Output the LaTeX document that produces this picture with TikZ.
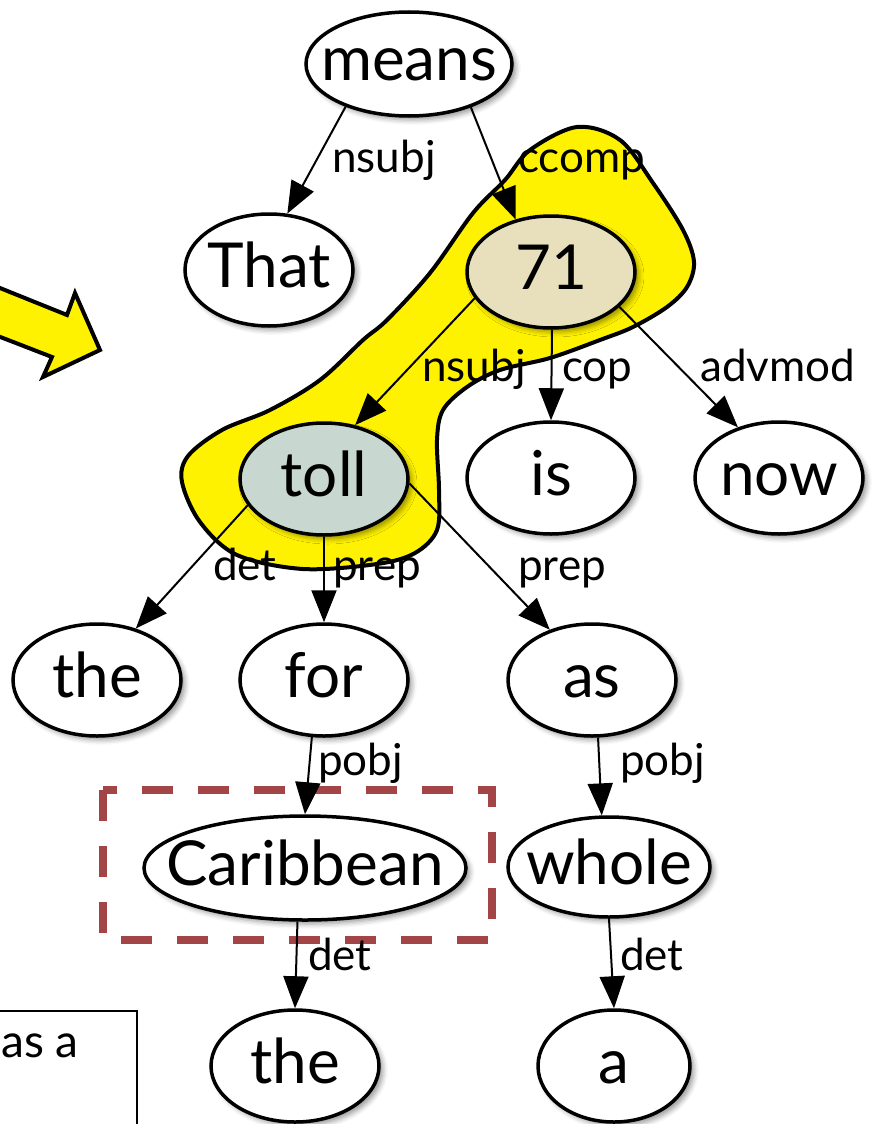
\documentclass[tikz,border=0pt]{standalone}
\usepackage{fontspec}
\setmainfont{Lato}
\usetikzlibrary{shapes.geometric,arrows.meta,shadows.blur}

% word text that does not widen its ellipse; baseline a little below centre
\newcommand\wordtext[1]{\makebox[0pt]{\raisebox{-17pt}[0pt][0pt]{#1}}}

\begin{document}
\begin{tikzpicture}[x=1pt,y=-1pt,
  word/.style={ellipse, draw, line width=3.5pt, fill=white, inner sep=0pt,
    minimum width=168pt, minimum height=112pt,
    font=\fontsize{62}{70}\selectfont,
    blur shadow={shadow xshift=4pt, shadow yshift=-4pt,
      shadow blur radius=5pt, shadow opacity=40}},
  dep/.style={line width=2pt, -{Triangle[length=32pt,width=25pt]}},
  lbl/.style={anchor=base west, inner sep=0pt, font=\fontsize{44}{48}\selectfont},
  blob/.style={draw, line width=4pt, fill=yellow},
  bigarrow/.style={draw, line width=4pt, fill=yellow, line join=miter},
  focus/.style={draw=focusred, line width=8pt, dash pattern=on 31pt off 25pt},
]
\definecolor{focusred}{HTML}{A34447}
\definecolor{headtan}{HTML}{E8E0BC}
\definecolor{depgrey}{HTML}{C8D8D0}

\useasboundingbox (0,0) rectangle (872,1124);
\clip (0,0) rectangle (872,1124);

% highlighted region around the head and its subject
\path[blob] plot[smooth cycle, tension=0.55] coordinates {
  (577,127) (620,140) (653,183) (683,230) (694,262) (687,287) (667,307)
  (633,327) (600,340) (550,358) (500,370) (467,387) (443,410)
  (437,440) (439,490) (437,530) (415,553) (377,564) (303,569)
  (237,555) (200,522) (182,482) (188,456) (222,430) (270,410)
  (320,380) (363,340) (387,320) (430,273) (473,213) (505,180) (530,150)};

% pointer arrow on the left
\path[bigarrow] (-10,284) -- (67,315) -- (75,293) -- (100,350)
  -- (43,377) -- (52,357) -- (-10,333) -- cycle;

% framed fragment of text
\draw[line width=1.5pt] (-5,1011) -- (137,1011) -- (137,1130);
\node[anchor=base west, inner sep=0pt, font=\fontsize{46}{52}\selectfont]
  (frag) at (1,1057) {as a};

% words
\node[word, minimum width=206pt, minimum height=104pt] (means) at (409,64) {\wordtext{means}};
\node[word] (That) at (269,270) {\wordtext{That}};
\node[word, fill=headtan] (n71) at (551,272) {\wordtext{71}};
\node[word, fill=depgrey] (toll) at (324,479) {\wordtext{toll}};
\node[word] (is) at (551,478) {\wordtext{is}};
\node[word] (now) at (779,478) {\wordtext{now}};
\node[word] (the1) at (97,680) {\wordtext{the}};
\node[word] (for) at (324,680) {\wordtext{for}};
\node[word] (as) at (592,680) {\wordtext{as}};
\node[word, minimum width=322pt, minimum height=104pt] (Carib) at (305,868) {\wordtext{Caribbean}};
\node[word, minimum width=202pt, minimum height=100pt] (whole) at (609,867) {\wordtext{whole}};
\node[word] (the2) at (295,1066) {\wordtext{the}};
\node[word, minimum width=152pt] (a) at (614,1066) {\wordtext{a}};

% focus frame
\draw[focus] (103,790) rectangle (492,940);

% dependencies
\draw[dep] (means.214) -- (That.72);
\node[lbl] (l1) at (332,172) {nsubj};
\draw[dep] (means.325) -- (n71.124);
\node[lbl] (l2) at (518,172) {ccomp};
\draw[dep] (n71.199) -- (toll.60);
\node[lbl] (l3) at (422,381) {nsubj};
\draw[dep] (n71.271) -- (is.90);
\node[lbl] (l4) at (562,381) {cop};
\draw[dep] (n71.333) -- (now.129);
\node[lbl] (l5) at (700,381) {advmod};
\draw[dep] (toll.199) -- (the1.53);
\node[lbl] (l6) at (213,580) {det};
\draw[dep] (toll.270) -- (for.90);
\node[lbl] (l7) at (333,580) {prep};
\draw[dep] (toll.357) -- (as.130);
\node[lbl] (l8) at (518,580) {prep};
\draw[dep] (for.258) -- (Carib.90);
\node[lbl] (l9) at (318,775) {pobj};
\draw[dep] (as.276) -- (whole.98);
\node[lbl] (l10) at (620,775) {pobj};
\draw[dep] (Carib.262) -- (the2.90);
\node[lbl] (l11) at (308,970) {det};
\draw[dep] (whole.270) -- (a.90);
\node[lbl] (l12) at (620,970) {det};
\end{tikzpicture}
\end{document}
